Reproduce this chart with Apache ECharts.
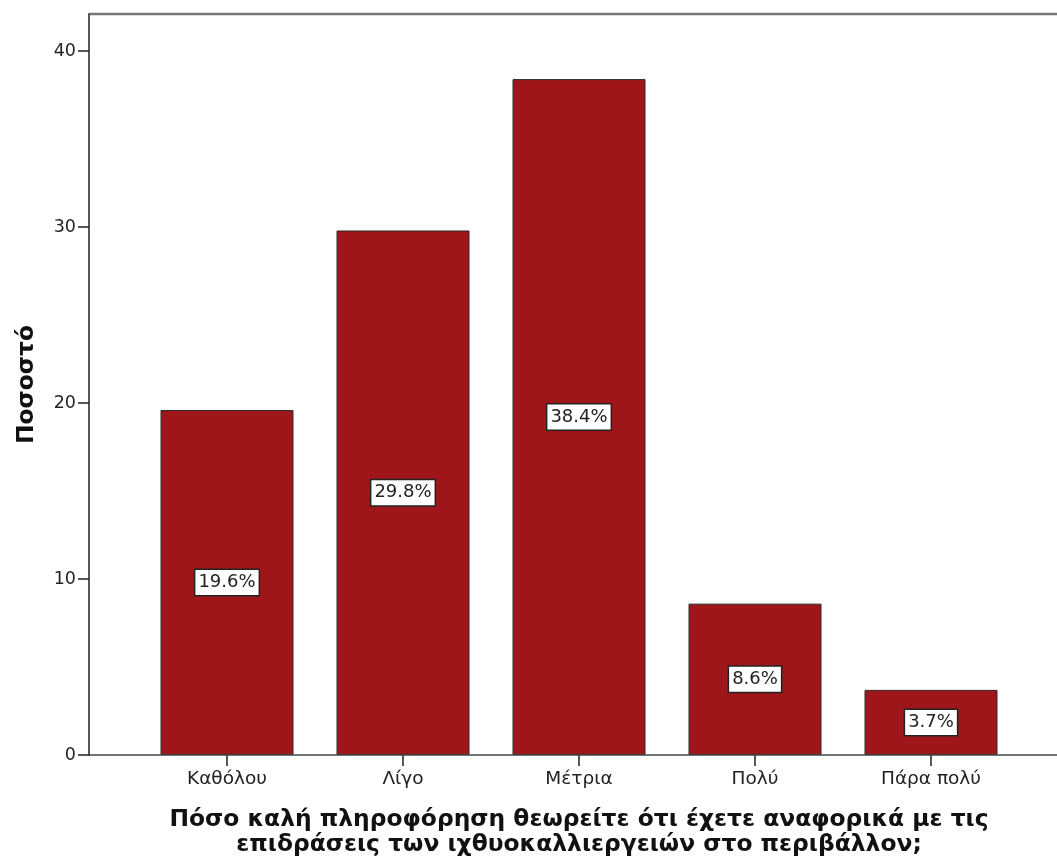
<!DOCTYPE html>
<html>
<head>
<meta charset="utf-8">
<script src="https://cdn.jsdelivr.net/npm/echarts@6/dist/echarts.min.js"></script>
<style>
html,body{margin:0;padding:0;background:#fff;}
#chart{width:1057px;height:859px;}
</style>
</head>
<body>
<div id="chart"></div>
<script>
const categories = ['Καθόλου', 'Λίγο', 'Μέτρια', 'Πολύ', 'Πάρα πολύ'];
const percentValues = [19.6, 29.8, 38.4, 8.6, 3.7];
const yTicks = [0, 10, 20, 30, 40];
const xTitle = 'Πόσο καλή πληροφόρηση θεωρείτε ότι έχετε αναφορικά με τις\nεπιδράσεις των ιχθυοκαλλιεργειών στο περιβάλλον;';
const yTitle = 'Ποσοστό';

const chart = echarts.init(document.getElementById('chart'));
const FONT = 'DejaVu Sans';
chart.setOption({
  animation: false,
  backgroundColor: '#fff',
  grid: { left: 139, right: 38, top: 14, bottom: 104, outerBoundsMode: 'none', containLabel: false },
  xAxis: {
    type: 'category',
    data: categories,
    axisLine: { show: false },
    axisTick: { show: true, alignWithLabel: true, length: 11, lineStyle: { color: '#222', width: 1.5 } },
    axisLabel: { color: '#222', fontFamily: FONT, fontSize: 18.5, margin: 15 },
    name: xTitle,
    nameLocation: 'middle',
    nameGap: 52,
    nameTextStyle: { color: '#111', fontFamily: FONT, fontSize: 23.4, fontWeight: 'bold', lineHeight: 25 }
  },
  yAxis: {
    type: 'value',
    min: 0,
    max: 42.1,
    interval: 10,
    offset: 50,
    axisLine: { show: true, lineStyle: { color: '#444', width: 1.8 } },
    axisTick: { show: true, length: 11, customValues: yTicks, lineStyle: { color: '#222', width: 1.5 } },
    axisLabel: { color: '#222', fontFamily: FONT, fontSize: 17.5, margin: 13, customValues: yTicks },
    splitLine: { show: false },
    name: yTitle,
    nameLocation: 'middle',
    nameRotate: 90,
    nameGap: 51,
    nameTextStyle: { color: '#111', fontFamily: FONT, fontSize: 23.4, fontWeight: 'bold' }
  },
  series: [{
    type: 'bar',
    data: percentValues,
    barWidth: 133,
    itemStyle: { color: '#9e161a', borderColor: '#2a2a2a', borderWidth: 1 },
    label: {
      show: true,
      position: 'inside',
      formatter: p => p.value.toFixed(1) + '%',
      color: '#222',
      fontFamily: FONT,
      fontSize: 18,
      backgroundColor: '#fff',
      borderColor: '#222',
      borderWidth: 1.5,
      padding: [4, 3, 3, 3]
    }
  }],
  graphic: [
    { type: 'line', shape: { x1: 89, y1: 14, x2: 1057, y2: 14 }, style: { stroke: '#777', lineWidth: 2.5 }, silent: true },
    { type: 'line', shape: { x1: 89, y1: 755, x2: 1057, y2: 755 }, style: { stroke: '#444', lineWidth: 1.5 }, silent: true, z: 10 }
  ]
});
</script>
</body>
</html>
